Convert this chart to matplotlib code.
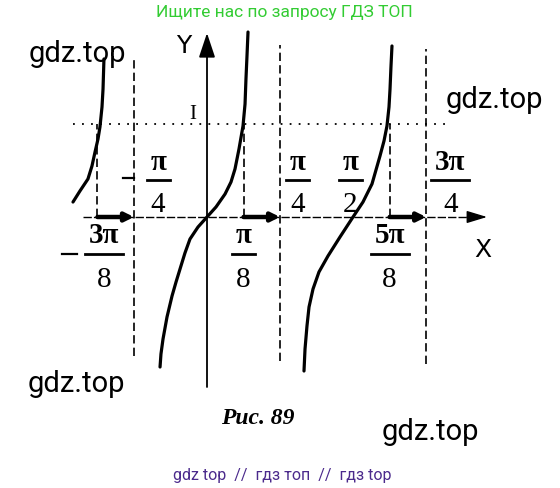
import numpy as np
import matplotlib
matplotlib.use("Agg")
import matplotlib.pyplot as plt

PI = np.pi

# ---- data (x in radians, y = tan 2x as drawn) ----
left_x = [-1.441, -1.366, -1.280, -1.237, -1.204, -1.172, -1.151, -1.129, -1.118, -1.108]
left_y = [0.161, 0.280, 0.409, 0.548, 0.699, 0.839, 0.968, 1.183, 1.376, 1.699]

mid_x = [-0.505, -0.495, -0.473, -0.430, -0.376, -0.333, -0.290, -0.237, -0.183, -0.097,
         0.0, 0.097, 0.194, 0.258, 0.301, 0.344, 0.387, 0.409, 0.419, 0.430, 0.441]
mid_y = [-1.613, -1.473, -1.312, -1.075, -0.849, -0.699, -0.559, -0.387, -0.237, -0.108,
         0.0, 0.108, 0.247, 0.376, 0.516, 0.731, 0.978, 1.215, 1.484, 1.731, 1.989]

right_x = [1.043, 1.054, 1.075, 1.097, 1.140, 1.204, 1.301, 1.430, 1.570, 1.677,
           1.774, 1.860, 1.903, 1.935, 1.957, 1.968, 1.978, 1.989]
right_y = [-1.656, -1.419, -1.172, -0.968, -0.774, -0.591, -0.419, -0.215, 0.0, 0.161,
           0.355, 0.656, 0.817, 0.978, 1.183, 1.376, 1.613, 1.839]

asymptotes = [-PI / 4, PI / 4, 3 * PI / 4]
asym_top = [1.699, 1.849, 1.806]
asym_bottom = [-1.495, -1.548, -1.581]

solution_starts = [-3 * PI / 8, PI / 8, 5 * PI / 8]
solution_ends = [-PI / 4, PI / 4, 3 * PI / 4]

level = 1.0

# tick labels
tick_values = [-PI / 4, PI / 4, PI / 2, 3 * PI / 4, -3 * PI / 8, PI / 8, 5 * PI / 8]
tick_num = ["π", "π", "π", "3π", "3π", "π", "5π"]
tick_den = ["4", "4", "2", "4", "8", "8", "8"]

# ---- figure ----
fig = plt.figure(figsize=(5.6, 4.89), dpi=100)
ax = fig.add_axes([0, 0, 1, 1])
ax.axis("off")
S = 93.0
ax.set_xlim(-207 / S, (560 - 207) / S)
ax.set_ylim(-(489 - 218) / S, 218 / S)

serif = ["Liberation Serif", "DejaVu Serif"]

# axes
ax.plot([-1.333, 2.85], [0, 0], color="black", lw=1.0, ls=(0, (6, 1.5)))
ax.annotate("", xy=(3.011, 0), xytext=(2.8, 0),
            arrowprops=dict(arrowstyle="-|>,head_length=1.25,head_width=0.38",
                            color="black", lw=1.0, shrinkA=0, shrinkB=0))
ax.annotate("", xy=(0, 1.978), xytext=(0, -1.828),
            arrowprops=dict(arrowstyle="-|>,head_length=1.5,head_width=0.5",
                            color="black", lw=1.3, shrinkA=0, shrinkB=0))

# dotted level y=1
ax.plot([-1.441, 2.56], [level, level], color="black", lw=1.3, ls=(0, (1, 4)))

# asymptotes
for a, t, b in zip(asymptotes, asym_top, asym_bottom):
    ax.plot([a, a], [b, t], color="black", lw=1.2, ls=(0, (5, 2.5)))

# short dashed verticals from axis to y=1
for s in solution_starts:
    ax.plot([s, s], [0, level], color="black", lw=1.2, ls=(0, (5, 2.5)))

# curves
for xs, ys in [(left_x, left_y), (mid_x, mid_y), (right_x, right_y)]:
    ax.plot(xs, ys, color="black", lw=2.3, solid_capstyle="round", solid_joinstyle="round")

# bold solution intervals
for s, e in zip(solution_starts, solution_ends):
    ax.annotate("", xy=(e, 0), xytext=(s, 0),
                arrowprops=dict(arrowstyle="-|>,head_length=0.5,head_width=0.25",
                                color="black", lw=3.2, shrinkA=0, shrinkB=0))

# tick fraction labels
offsets = [0.26, 0.19, -0.03, 0.26, 0.07, 0.0, 0.0]
above = [True, True, True, True, False, False, False]
fs = 21
for v, n, d, off, ab in zip(tick_values, tick_num, tick_den, offsets, above):
    cx = v + off
    if ab:
        yn, yb, yd = 0.602, 0.398, 0.140
    else:
        yn, yb, yd = -0.183, -0.398, -0.667
    half = 0.125 if len(n) == 1 else 0.205
    ax.text(cx, yn, n, ha="center", va="center", fontsize=fs, family=serif, fontweight="bold")
    ax.plot([cx - half, cx + half], [yb, yb], color="black", lw=2.0)
    ax.text(cx, yd, d, ha="center", va="center", fontsize=fs, family=serif)

# minus signs
ax.plot([-0.90, -0.78], [0.419, 0.419], color="black", lw=1.6)
ax.plot([-1.56, -1.40], [-0.398, -0.398], color="black", lw=1.6)

# axis names and 1
ax.text(-0.247, 1.85, "Y", ha="center", va="center", fontsize=18, family=["DejaVu Sans"])
ax.text(2.968, -0.344, "X", ha="center", va="center", fontsize=18, family=["DejaVu Sans"])
ax.text(-0.151, 1.108, "I", ha="center", va="center", fontsize=15, family=serif)

# caption
ax.text(0.548, -2.16, "Рис. 89", ha="center", va="center", fontsize=17,
        family=serif, style="italic", fontweight="bold")

# watermarks
fig.text(284 / 560, 1 - 12 / 489, "Ищите нас по запросу ГДЗ ТОП", ha="center", va="center",
         fontsize=12.5, family=["Roboto", "DejaVu Sans"], color="#33cc33")
for (px, py) in [(77, 54), (494, 100), (76, 384), (430, 432)]:
    fig.text(px / 560, 1 - py / 489, "gdz.top", ha="center", va="center",
             fontsize=21, family=["Roboto", "DejaVu Sans"], color="black")
fig.text(282 / 560, 1 - 476 / 489, "gdz top  //  гдз топ  //  гдз top", ha="center",
         va="center", fontsize=11.5, family=["Roboto", "DejaVu Sans"], color="#4b2a8c")

fig.savefig("out.png", dpi=100)
